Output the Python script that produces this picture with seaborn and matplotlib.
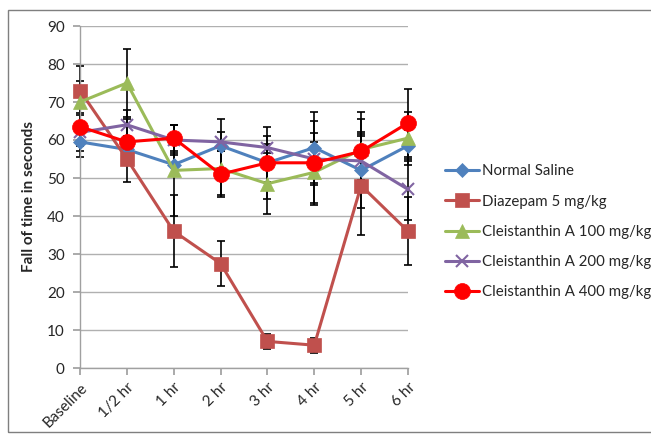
import numpy as np
import pandas as pd
import matplotlib
matplotlib.use("Agg")
import matplotlib.pyplot as plt
import seaborn as sns
from matplotlib.patches import Rectangle

# time points and group names
times = ["Baseline", "1/2 hr", "1 hr", "2 hr", "3 hr", "4 hr", "5 hr", "6 hr"]
groups = ["Normal Saline", "Diazepam 5 mg/kg", "Cleistanthin A 100 mg/kg",
          "Cleistanthin A 200 mg/kg", "Cleistanthin A 400 mg/kg"]

# mean fall time (s)
saline = [59.5, 57.5, 53.5, 58.5, 54, 58, 52, 58.5]
diazepam = [73, 55, 36, 27.5, 7, 6, 48, 36]
cl100 = [70, 75, 52, 52.5, 48.5, 51.5, 57.5, 60.5]
cl200 = [62, 64, 60, 59.5, 58, 55, 54.5, 47]
cl400 = [63.5, 59.5, 60.5, 51, 54, 54, 57, 64.5]

# error bar half-widths
saline_err = [4, 3.5, 3, 7, 5, 9.4, 10, 4]
diazepam_err = [6.5, 6, 9.5, 6, 2, 2, 13, 9]
cl100_err = [5.5, 9, 12, 7, 8, 8, 8, 7]
cl200_err = [5, 4, 4, 2.5, 3, 6.8, 7, 8]
cl400_err = [5, 6, 3.5, 6, 9.5, 11, 10.5, 9]

means = [saline, diazepam, cl100, cl200, cl400]
errs = [saline_err, diazepam_err, cl100_err, cl200_err, cl400_err]

df = pd.concat([
    pd.DataFrame({"pos": range(len(times)), "time": times, "value": m, "err": e, "group": g})
    for g, m, e in zip(groups, means, errs)
], ignore_index=True)

colors = ["#4F81BD", "#C0504D", "#9BBB59", "#8064A2", "#FF0000"]
markers = ["D", "s", "^", "x", "o"]
msizes = [7.5, 10.5, 9.5, 9, 11.5]

sns.set_theme(style="white")
plt.rcParams["font.family"] = ["Lato", "DejaVu Sans"]

fig = plt.figure(figsize=(6.51, 4.38), dpi=100)
ax = fig.add_axes([80 / 651, 1 - 368 / 438, (408 - 80) / 651, (368 - 26) / 438])

for g, c, mk, ms in zip(groups, colors, markers, msizes):
    sub = df[df["group"] == g]
    ax.errorbar(sub["pos"], sub["value"], yerr=sub["err"], fmt="none", ecolor="black",
                elinewidth=1.2, capsize=3, capthick=1.2, zorder=2, clip_on=False)
    sns.lineplot(data=sub, x="pos", y="value", ax=ax, color=c, marker=mk,
                 markersize=ms, markeredgecolor=c, markeredgewidth=1.5 if mk == "x" else 0.5,
                 linewidth=2.2, label=g, zorder=3, clip_on=False)

ax.set_xlim(0, len(times) - 1)
ax.set_ylim(0, 90)
ax.set_yticks(range(0, 91, 10))
ax.set_xticks(range(len(times)))
ax.set_xticklabels(times, rotation=45, ha="right", rotation_mode="anchor", fontsize=11)
ax.tick_params(axis="y", labelsize=11, length=5, color="#A0A0A0", direction="out", left=True, pad=6)
ax.tick_params(axis="x", length=5, color="#A0A0A0", direction="out", bottom=True, pad=4)
ax.yaxis.grid(True, color="#B0B0B0", linewidth=1)
ax.set_axisbelow(True)
for s in ["top", "right"]:
    ax.spines[s].set_visible(False)
for s in ["left", "bottom"]:
    ax.spines[s].set_color("#A0A0A0")
    ax.spines[s].set_linewidth(1)
ax.set_xlabel("")
ax.set_ylabel("Fall of time in seconds", fontsize=11, fontweight="bold", labelpad=8)

leg = ax.legend(loc="center left", bbox_to_anchor=(1.094, 0.398), frameon=False,
                fontsize=10.8, handlelength=2.3, handletextpad=0.15, labelspacing=1.08,
                borderaxespad=0)

fig.patches.append(Rectangle((8 / 651, 1 - 432 / 438), 1.0, (432 - 10) / 438,
                             transform=fig.transFigure, fill=False, edgecolor="#7F7F7F",
                             linewidth=1))

fig.savefig("out.png", dpi=100)
